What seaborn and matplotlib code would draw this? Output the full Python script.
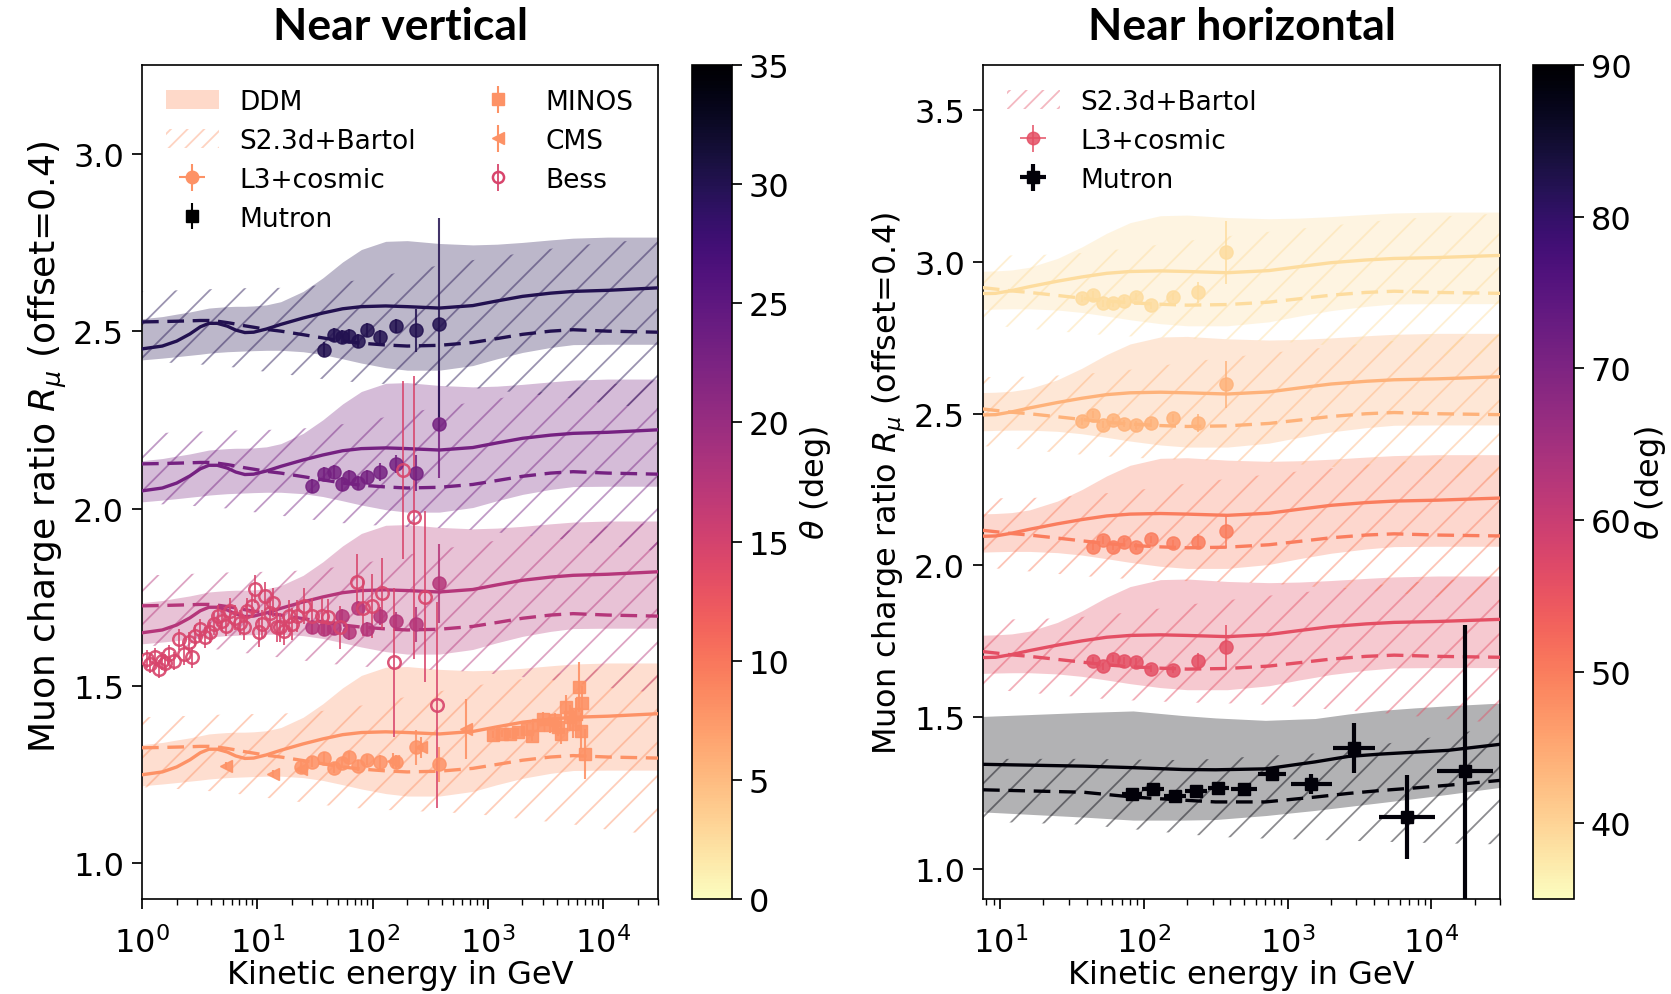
import numpy as np
import pandas as pd
import matplotlib
matplotlib.use("Agg")
import matplotlib.pyplot as plt
import seaborn as sns
from matplotlib.patches import Patch
from matplotlib.colors import Normalize
from matplotlib.cm import ScalarMappable

# ---------------- theory curves (no offset) ----------------
theory_E = [1, 1.5, 2, 2.6, 3.2, 3.8, 4.5, 5.5, 6.5, 7.8, 9.3, 12, 16, 25, 37, 55, 80, 130,
            200, 380, 740, 1200, 2000, 3500, 5500, 11000, 30000]
ddm_central = [1.250, 1.258, 1.272, 1.292, 1.312, 1.322, 1.322, 1.314, 1.303, 1.296, 1.297, 1.306,
               1.319, 1.337, 1.351, 1.363, 1.369, 1.371, 1.369, 1.365, 1.372, 1.385, 1.398, 1.407,
               1.412, 1.415, 1.422]
s23_central = [1.326, 1.327, 1.328, 1.329, 1.330, 1.330, 1.328, 1.324, 1.320, 1.315, 1.311, 1.305,
               1.300, 1.290, 1.281, 1.272, 1.266, 1.261, 1.258, 1.260, 1.268, 1.279, 1.291, 1.300,
               1.304, 1.300, 1.297]
ddm_high = [1.335, 1.341, 1.348, 1.354, 1.360, 1.365, 1.367, 1.369, 1.370, 1.370, 1.371, 1.374,
            1.383, 1.412, 1.450, 1.495, 1.530, 1.553, 1.555, 1.547, 1.543, 1.545, 1.550, 1.557,
            1.562, 1.565, 1.565]
ddm_low = [1.219, 1.224, 1.228, 1.232, 1.235, 1.238, 1.240, 1.242, 1.243, 1.244, 1.245, 1.246,
           1.246, 1.242, 1.234, 1.222, 1.210, 1.197, 1.190, 1.190, 1.203, 1.222, 1.240, 1.254,
           1.262, 1.263, 1.263]
s23_high = [1.412, 1.413, 1.415, 1.416, 1.417, 1.418, 1.419, 1.420, 1.420, 1.421, 1.421, 1.422,
            1.422, 1.426, 1.430, 1.438, 1.445, 1.458, 1.470, 1.485, 1.500, 1.510, 1.520, 1.532,
            1.540, 1.550, 1.560]
s23_low = [1.215, 1.212, 1.210, 1.208, 1.206, 1.204, 1.203, 1.200, 1.197, 1.193, 1.190, 1.185,
           1.180, 1.172, 1.165, 1.159, 1.155, 1.151, 1.148, 1.145, 1.140, 1.133, 1.125, 1.117,
           1.110, 1.095, 1.080]

# Mutron (near 89 deg) theory curves
mut_theory_E = [7.6, 38, 84, 185, 315, 700, 1550, 2640, 4500, 7600, 13000, 30000]
mut_ddm_central = [1.344, 1.338, 1.333, 1.327, 1.326, 1.329, 1.352, 1.370, 1.378, 1.384, 1.390, 1.410]
mut_ddm_low = [1.187, 1.170, 1.160, 1.160, 1.162, 1.175, 1.192, 1.205, 1.218, 1.231, 1.245, 1.268]
mut_ddm_high = [1.502, 1.515, 1.520, 1.505, 1.497, 1.489, 1.495, 1.510, 1.522, 1.530, 1.537, 1.546]
mut_s23_central = [1.260, 1.252, 1.236, 1.226, 1.220, 1.220, 1.236, 1.248, 1.258, 1.266, 1.275, 1.291]
mut_s23_low = [1.155, 1.145, 1.130, 1.115, 1.105, 1.099, 1.095, 1.092, 1.089, 1.086, 1.083, 1.080]
mut_s23_high = [1.362, 1.362, 1.360, 1.358, 1.362, 1.372, 1.380, 1.395, 1.410, 1.425, 1.440, 1.470]

# ---------------- angle bins ----------------
left_theta = [8.0, 17.5, 23.0, 30.0]
left_offset = [0.0, 0.4, 0.8, 1.2]
right_theta = [89.0, 56.0, 50.0, 44.0, 39.0]
right_offset = [0.0, 0.4, 0.8, 1.2, 1.6]
bess_theta = 14.5
bess_offset = 0.4

# ---------------- L3+cosmic, near vertical ----------------
l3_left_E = [24, 30, 38, 46, 54, 63, 75, 90, 115, 160, 240, 380]
l3_left_R = [
    [1.271, 1.286, 1.298, 1.270, 1.283, 1.300, 1.276, 1.292, 1.286, 1.286, 1.327, 1.279],
    [np.nan, 1.267, 1.262, 1.263, 1.298, 1.251, 1.321, 1.260, 1.298, 1.284, 1.274, 1.389],
    [np.nan, 1.264, 1.297, 1.304, 1.269, 1.289, 1.271, 1.289, 1.304, 1.325, 1.300, 1.437],
    [np.nan, np.nan, 1.248, 1.290, 1.283, 1.286, 1.272, 1.304, 1.283, 1.314, 1.302, 1.319],
]
l3_left_err = [
    [0.015, 0.015, 0.015, 0.015, 0.015, 0.015, 0.015, 0.015, 0.02, 0.02, 0.05, 0.05],
    [0.02, 0.02, 0.02, 0.02, 0.02, 0.02, 0.02, 0.02, 0.025, 0.025, 0.05, 0.11],
    [0.02, 0.02, 0.02, 0.02, 0.02, 0.02, 0.02, 0.02, 0.025, 0.025, 0.05, 0.15],
    [0.02, 0.02, 0.02, 0.02, 0.02, 0.02, 0.02, 0.02, 0.02, 0.02, 0.06, 0.30],
]

# CMS (offset 0)
cms_E = [5.4, 13.6, 24, 150, 265, 650]
cms_R = [1.276, 1.253, 1.267, 1.290, 1.327, 1.379]
cms_err = [0.01, 0.01, 0.01, 0.02, 0.03, 0.085]

# MINOS (offset 0)
minos_E = [1114, 1316, 1553, 1836, 2168, 2395, 2737, 3022, 3454, 3814, 4077, 4357, 4817, 5144,
           5498, 5875, 6195, 6620, 6497, 6940]
minos_R = [1.363, 1.365, 1.365, 1.370, 1.379, 1.360, 1.389, 1.407, 1.389, 1.403, 1.384, 1.365,
           1.440, 1.412, 1.393, 1.421, 1.498, 1.451, 1.374, 1.309]
minos_err = [0.01, 0.01, 0.012, 0.012, 0.014, 0.015, 0.017, 0.02, 0.02, 0.022, 0.025, 0.028,
             0.035, 0.035, 0.04, 0.045, 0.07, 0.05, 0.05, 0.07]

# Bess (offset 0.4)
bess_E = [1.10, 1.18, 1.30, 1.39, 1.49, 1.59, 1.70, 1.88, 2.08, 2.30, 2.54, 2.71, 2.90, 3.20, 3.54, 3.91,
          4.18, 4.52, 4.93, 5.38, 5.82, 6.43, 7.11, 7.60, 8.13, 8.98, 9.60, 10.3, 11.0, 11.7, 12.9, 13.8,
          14.8, 15.8, 16.9, 18.7, 19.9, 22.0, 25.2, 29.7, 36.3, 41.4, 52.3, 72.9, 83.3, 98.4, 120, 152,
          184, 231, 285, 360]
bess_R = [1.176, 1.162, 1.181, 1.148, 1.171, 1.164, 1.190, 1.171, 1.232, 1.190, 1.223, 1.181, 1.242, 1.260,
          1.237, 1.251, 1.275, 1.298, 1.284, 1.270, 1.312, 1.293, 1.279, 1.265, 1.312, 1.326, 1.373, 1.251,
          1.275, 1.354, 1.307, 1.335, 1.265, 1.265, 1.256, 1.298, 1.275, 1.298, 1.326, 1.298, 1.298, 1.295,
          1.265, 1.392, 1.321, 1.326, 1.361, 1.167, 1.709, 1.575, 1.352, 1.047]
bess_err = [0.025, 0.025, 0.025, 0.025, 0.025, 0.025, 0.025, 0.025,
            0.03, 0.03, 0.03, 0.03, 0.03, 0.03, 0.03, 0.03, 0.03, 0.03, 0.03, 0.03,
            0.035, 0.035, 0.035, 0.035, 0.035, 0.035,
            0.04, 0.04, 0.04, 0.04, 0.04, 0.04, 0.04, 0.04, 0.04,
            0.045, 0.045, 0.045, 0.05, 0.05, 0.05, 0.05, 0.06,
            0.08, 0.08, 0.09, 0.10, 0.21, 0.25, 0.40, 0.24, 0.29]

# ---------------- L3+cosmic, near horizontal ----------------
l3_right_E = [37, 44, 52, 61, 73, 88, 112, 158, 239, 370]
l3_right_R = [
    [np.nan] * 10,
    [np.nan, 1.286, 1.267, 1.292, 1.286, 1.281, 1.259, 1.256, 1.286, 1.332],
    [np.nan, 1.262, 1.284, 1.262, 1.278, 1.262, 1.286, 1.273, 1.278, 1.314],
    [1.275, 1.297, 1.264, 1.278, 1.267, 1.263, 1.269, 1.286, 1.269, 1.397],
    [1.281, 1.292, 1.264, 1.264, 1.273, 1.286, 1.258, 1.286, 1.300, 1.432],
]
l3_right_err = [
    [0.0] * 10,
    [0.012] * 8 + [0.025, 0.073],
    [0.012] * 8 + [0.025, 0.057],
    [0.012] * 8 + [0.03, 0.077],
    [0.012] * 8 + [0.035, 0.104],
]

# Mutron (offset 0)
mutron_E = [82.4, 116, 164, 231, 329, 495, 778, 1455, 2884, 6776, 17060]
mutron_R = [1.247, 1.262, 1.239, 1.255, 1.267, 1.264, 1.311, 1.280, 1.399, 1.170, 1.322]
mutron_dec = [0.069, 0.075, 0.075, 0.075, 0.075, 0.092, 0.10, 0.143, 0.148, 0.193, 0.196]
mutron_err = [0.012, 0.012, 0.012, 0.012, 0.012, 0.012, 0.02, 0.033, 0.082, 0.139, 0.48]

# ---------------- style ----------------
sns.set_theme(style="ticks", rc={
    "axes.edgecolor": "black", "xtick.color": "black", "ytick.color": "black",
    "text.color": "black", "axes.labelcolor": "black", "axes.linewidth": 1.2,
    "xtick.major.size": 7, "ytick.major.size": 7, "xtick.minor.size": 4,
    "ytick.minor.size": 4, "xtick.major.pad": 13, "ytick.major.pad": 6,
    "hatch.linewidth": 1.3,
})
plt.rcParams['font.family'] = ['DejaVu Sans']
plt.rcParams['mathtext.fontset'] = 'dejavusans'

TICK_FS = 23
XLABEL_FS = 23
YLABEL_FS_LEFT = 26
YLABEL_FS_RIGHT = 23
LEG_FS = 19
CB_LABEL_FS = 23
TITLE_FS = 32

cmap = plt.get_cmap("magma_r")
norm_left = Normalize(0, 35)
norm_right = Normalize(35, 90)

fig = plt.figure(figsize=(16.71, 9.95), dpi=100)
ax1 = fig.add_axes([0.0850, 0.0955, 0.3088, 0.8382])
cax1 = fig.add_axes([0.4141, 0.0955, 0.0239, 0.8382])
ax2 = fig.add_axes([0.5883, 0.0955, 0.3094, 0.8382])
cax2 = fig.add_axes([0.9175, 0.0955, 0.0245, 0.8382])


def draw_band(ax, E, lo_d, hi_d, lo_s, hi_s, color, off):
    E = np.asarray(E)
    ax.fill_between(E, np.asarray(lo_d) + off, np.asarray(hi_d) + off,
                    color=color, alpha=0.30, linewidth=0, zorder=1)
    ax.fill_between(E, np.asarray(lo_s) + off, np.asarray(hi_s) + off,
                    facecolor="none", edgecolor=color, hatch="/", alpha=0.45,
                    linewidth=0, zorder=1.5)


def curve_frame(E, cen_d, cen_s, off, band):
    return pd.concat([
        pd.DataFrame({"E": E, "R": np.asarray(cen_d) + off, "band": band, "model": "DDM"}),
        pd.DataFrame({"E": E, "R": np.asarray(cen_s) + off, "band": band, "model": "S2.3d+Bartol"}),
    ])


for ax in (ax1, ax2):
    ax.set_xscale("log")

# ---------- left panel ----------
frames, pal = [], {}
for th, off in zip(left_theta, left_offset):
    c = cmap(norm_left(th))
    draw_band(ax1, theory_E, ddm_low, ddm_high, s23_low, s23_high, c, off)
    key = f"{th}"
    pal[key] = c
    frames.append(curve_frame(theory_E, ddm_central, s23_central, off, key))
df_left = pd.concat(frames, ignore_index=True)
sns.lineplot(data=df_left, x="E", y="R", hue="band", style="model", palette=pal,
             dashes={"DDM": "", "S2.3d+Bartol": (5, 2.6)}, estimator=None, sort=False,
             linewidth=2.4, legend=False, ax=ax1, zorder=3)

for th, off, R, err in zip(left_theta, left_offset, l3_left_R, l3_left_err):
    c = cmap(norm_left(th))
    ax1.errorbar(l3_left_E, np.asarray(R) + off, yerr=err, fmt="o", color=c, ms=9.5,
                 elinewidth=1.5, alpha=0.85, zorder=4)

c0 = cmap(norm_left(left_theta[0]))
ax1.errorbar(cms_E, cms_R, yerr=cms_err, fmt="<", color=c0, ms=9, elinewidth=1.5, alpha=0.9, zorder=4)
ax1.errorbar(minos_E, minos_R, yerr=minos_err, fmt="s", color=c0, ms=8, elinewidth=1.5, alpha=0.9, zorder=4)
cb_ = cmap(norm_left(bess_theta))
ax1.errorbar(bess_E, np.asarray(bess_R) + bess_offset, yerr=bess_err, fmt="o", mfc="none", mec=cb_,
             color=cb_, ms=9, mew=1.8, elinewidth=1.3, alpha=0.9, zorder=4)

ax1.set_xlim(1, 3e4)
ax1.set_ylim(0.9, 3.25)
ax1.set_yticks([1.0, 1.5, 2.0, 2.5, 3.0])
ax1.set_xlabel("Kinetic energy in GeV", fontsize=XLABEL_FS, labelpad=0)
ax1.set_ylabel(r"Muon charge ratio $R_\mu$ (offset=0.4)", fontsize=YLABEL_FS_LEFT)
ax1.yaxis.set_label_coords(-0.141, 0.544)
ax1.tick_params(labelsize=TICK_FS)

h_ddm = Patch(facecolor=c0, alpha=0.35, edgecolor="none")
h_s23 = Patch(facecolor="none", edgecolor=c0, hatch="//", alpha=0.4, linewidth=0)
h_l3 = ax1.errorbar([np.nan], [np.nan], xerr=[1], yerr=[1], fmt="o", color=c0, ms=9, elinewidth=1.5)
h_mut = ax1.errorbar([np.nan], [np.nan], yerr=[1], fmt="s", color="black", ms=8, elinewidth=1.5)
h_minos = ax1.errorbar([np.nan], [np.nan], yerr=[1], fmt="s", color=c0, ms=8, elinewidth=1.5)
h_cms = ax1.errorbar([np.nan], [np.nan], yerr=[1], fmt="<", color=c0, ms=9, elinewidth=1.5)
h_bess = ax1.errorbar([np.nan], [np.nan], yerr=[1], fmt="o", mfc="none", mec=cb_, color=cb_,
                      ms=8, mew=1.8, elinewidth=1.3)
ax1.legend([h_ddm, h_s23, h_l3, h_mut, h_minos, h_cms, h_bess],
           ["DDM", "S2.3d+Bartol", "L3+cosmic", "Mutron", "MINOS", "CMS", "Bess"],
           ncol=2, frameon=False, fontsize=LEG_FS, loc="upper left", handlelength=2.0,
           handletextpad=0.8, columnspacing=2.1, labelspacing=0.49, borderaxespad=0.5)

# ---------- right panel ----------
frames, pal = [], {}
for i, (th, off) in enumerate(zip(right_theta, right_offset)):
    c = cmap(norm_right(th))
    key = f"{th}"
    pal[key] = c
    if i == 0:
        draw_band(ax2, mut_theory_E, mut_ddm_low, mut_ddm_high, mut_s23_low, mut_s23_high, c, off)
        frames.append(curve_frame(mut_theory_E, mut_ddm_central, mut_s23_central, off, key))
    else:
        draw_band(ax2, theory_E, ddm_low, ddm_high, s23_low, s23_high, c, off)
        frames.append(curve_frame(theory_E, ddm_central, s23_central, off, key))
df_right = pd.concat(frames, ignore_index=True)
sns.lineplot(data=df_right, x="E", y="R", hue="band", style="model", palette=pal,
             dashes={"DDM": "", "S2.3d+Bartol": (5, 2.6)}, estimator=None, sort=False,
             linewidth=2.4, legend=False, ax=ax2, zorder=3)

for i, (th, off) in enumerate(zip(right_theta, right_offset)):
    if i == 0:
        continue
    c = cmap(norm_right(th))
    ax2.errorbar(l3_right_E, np.asarray(l3_right_R[i]) + off, yerr=l3_right_err[i], fmt="o",
                 color=c, ms=9.5, elinewidth=1.3, alpha=0.85, zorder=4)

cm0 = cmap(norm_right(right_theta[0]))
mE = np.asarray(mutron_E)
mdec = np.asarray(mutron_dec)
xerr = [mE - mE / 10 ** mdec, mE * 10 ** mdec - mE]
ax2.errorbar(mE, mutron_R, xerr=xerr, yerr=mutron_err, fmt="s", color=cm0, ms=8,
             elinewidth=3, zorder=5)

ax2.set_xlim(7.6, 3e4)
ax2.set_ylim(0.9, 3.65)
ax2.set_yticks([1.0, 1.5, 2.0, 2.5, 3.0, 3.5])
ax2.set_xlabel("Kinetic energy in GeV", fontsize=XLABEL_FS, labelpad=0)
ax2.set_ylabel(r"Muon charge ratio $R_\mu$ (offset=0.4)", fontsize=YLABEL_FS_RIGHT)
ax2.yaxis.set_label_coords(-0.148, 0.5)
ax2.tick_params(labelsize=TICK_FS)

cp = cmap(norm_right(right_theta[1]))
h2_s23 = Patch(facecolor="none", edgecolor=cp, hatch="//", alpha=0.4, linewidth=0)
h2_l3 = ax2.errorbar([np.nan], [np.nan], xerr=[1], yerr=[1], fmt="o", color=cp, ms=9,
                     elinewidth=1.3, alpha=0.85)
h2_mut = ax2.errorbar([np.nan], [np.nan], xerr=[1], yerr=[1], fmt="s", color=cm0, ms=8, elinewidth=3)
ax2.legend([h2_s23, h2_l3, h2_mut], ["S2.3d+Bartol", "L3+cosmic", "Mutron"],
           frameon=False, fontsize=LEG_FS, loc="upper left", handlelength=2.0,
           handletextpad=0.8, labelspacing=0.49, borderaxespad=0.5)

# ---------- colorbars ----------
for cax, norm, ticks, lp in ((cax1, norm_left, range(0, 36, 5), 6),
                             (cax2, norm_right, range(40, 91, 10), 1)):
    cb = fig.colorbar(ScalarMappable(norm=norm, cmap=cmap), cax=cax)
    cb.set_ticks(list(ticks))
    cb.ax.tick_params(labelsize=TICK_FS, length=7, pad=5)
    cb.set_label(r"$\theta$ (deg)", fontsize=CB_LABEL_FS, labelpad=lp)
    cb.outline.set_linewidth(1.2)

# ---------- titles ----------
fig.text(0.2394, 0.973, "Near vertical", ha="center", va="center", fontsize=TITLE_FS,
         fontweight="bold", family=["Lato", "DejaVu Sans"])
fig.text(0.7430, 0.973, "Near horizontal", ha="center", va="center", fontsize=TITLE_FS,
         fontweight="bold", family=["Lato", "DejaVu Sans"])

fig.savefig("out.png", dpi=100)
